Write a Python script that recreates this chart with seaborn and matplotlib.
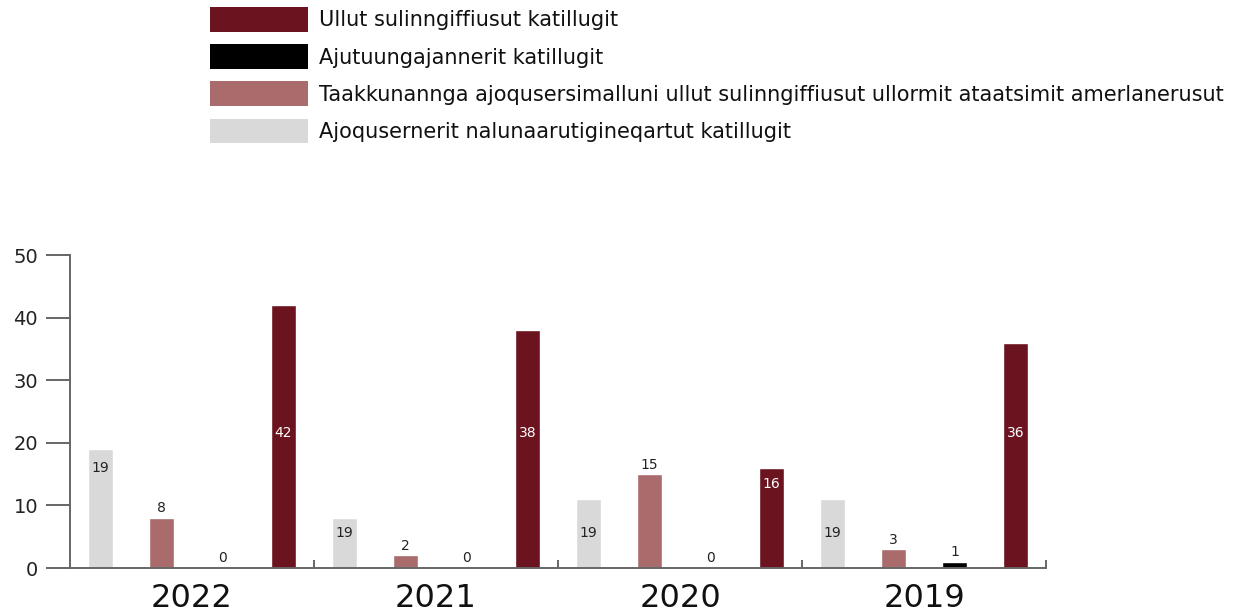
import pandas as pd
import matplotlib.pyplot as plt
import seaborn as sns
from matplotlib.patches import Patch

# ------------------------------------------
# data
# ------------------------------------------
YEARS = ["2022", "2021", "2020", "2019"]
SERIES = [
    "Ajoqusernerit nalunaarutigineqartut katillugit",
    "Taakkunannga ajoqusersimalluni ullut sulinngiffiusut ullormit ataatsimit amerlanerusut",
    "Ajutuungajannerit katillugit",
    "Ullut sulinngiffiusut katillugit",
]
COLORS = ["#D8D9D8", "#A96B6B", "#000000", "#6B131E"]

REPORTED = [19, 8, 11, 11]          # bar heights as drawn
REPORTED_LABELS = [19, 19, 19, 19]  # numbers printed on those bars
OVER_ONE_DAY = [8, 2, 15, 3]
NEAR_MISS = [0, 0, 0, 1]
DAYS_OFF = [42, 38, 16, 36]

values = [REPORTED, OVER_ONE_DAY, NEAR_MISS, DAYS_OFF]
labels = [REPORTED_LABELS, OVER_ONE_DAY, NEAR_MISS, DAYS_OFF]

rows = []
for name, vals in zip(SERIES, values):
    for y, v in zip(YEARS, vals):
        rows.append({"year": y, "series": name, "value": v})
df = pd.DataFrame(rows)

# ------------------------------------------
# plot
# ------------------------------------------
sns.set_style("white")
plt.rcParams["font.family"] = ["DejaVu Sans"]

fig = plt.figure(figsize=(12.42, 6.13), dpi=100)
ax = fig.add_axes([70 / 1242, 45 / 613, 976 / 1242, 313 / 613])

sns.barplot(data=df, x="year", y="value", hue="series", order=YEARS,
            hue_order=SERIES, palette=COLORS, width=1.0, gap=0.59,
            saturation=1, legend=False, ax=ax)

ax.set_xlim(-0.5, 3.5)
ax.set_ylim(0, 50)
ax.set_yticks(range(0, 51, 10))
ax.set_xlabel("")
ax.set_ylabel("")

for s in ["top", "right"]:
    ax.spines[s].set_visible(False)
for s in ["left", "bottom"]:
    ax.spines[s].set_color("#666666")
    ax.spines[s].set_linewidth(1.4)

ax.tick_params(axis="y", length=17, width=1.4, color="#666666", pad=6,
               labelsize=14, labelcolor="#222222", left=True)
ax.tick_params(axis="x", which="major", length=0, labelsize=23, pad=11,
               labelcolor="#111111")
ax.set_xticks([0.5, 1.5, 2.5, 3.5], minor=True)
ax.tick_params(axis="x", which="minor", direction="in", length=6, width=1.4,
               color="#666666", bottom=True)

# value labels
for i, cont in enumerate(ax.containers):
    for j, bar in enumerate(cont):
        h = values[i][j]
        txt = str(labels[i][j])
        cx = bar.get_x() + bar.get_width() / 2
        if i == 0:
            ypos = h - 3 if h > 15 else 5.6
            ax.text(cx, ypos, txt, ha="center", va="center", fontsize=10,
                    color="#222222")
        elif i == 3:
            ypos = min(21.6, h - 2.6)
            ax.text(cx, ypos, txt, ha="center", va="center", fontsize=10,
                    color="white")
        else:
            ax.text(cx, h + 0.4, txt, ha="center", va="bottom", fontsize=10,
                    color="#222222")

# legend (reverse order, like the original)
handles = [Patch(facecolor=c, edgecolor="none") for c in COLORS][::-1]
fig.legend(handles, SERIES[::-1], loc="upper left",
           bbox_to_anchor=(210 / 1242, 1 - 7 / 613), frameon=False,
           fontsize=15, handlelength=4.7, handleheight=1.45,
           handletextpad=0.55, labelspacing=0.6, borderpad=0,
           borderaxespad=0, labelcolor="#111111")

fig.savefig("out.png", dpi=100)
